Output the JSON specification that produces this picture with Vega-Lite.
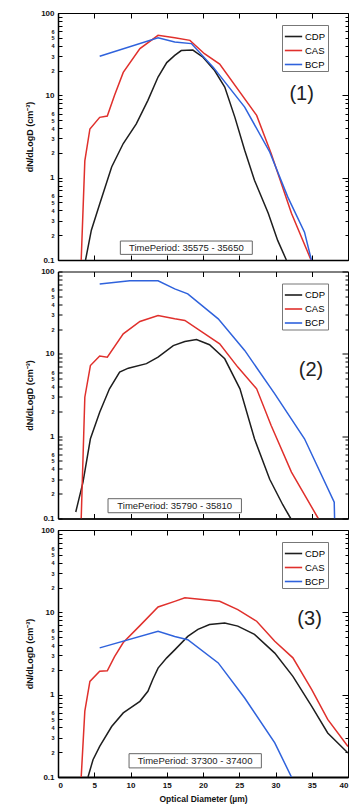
{
  "$schema": "https://vega.github.io/schema/vega-lite/v6.json",
  "background": "white",
  "padding": {"left": 25, "top": 8, "right": 2, "bottom": 2},
  "spacing": 11.5,
  "bounds": "flush",
  "config": {
    "font": "Liberation Sans",
    "view": {"stroke": "black", "strokeWidth": 1},
    "axis": {"grid": false, "domainColor": "black", "tickColor": "black", "labelColor": "#111", "titleColor": "#111", "labelFont": "Liberation Sans", "titleFont": "Liberation Sans"},
    "legend": {"orient": "none", "legendX": 224, "legendY": 12, "title": null, "symbolType": "stroke", "symbolStrokeWidth": 1.6, "symbolSize": 300, "labelFontSize": 9.5, "labelFont": "Liberation Sans", "strokeColor": "#777", "fillColor": "white", "padding": 2, "rowPadding": 0, "labelOffset": 2}
  },
  "resolve": {"scale": {"color": "independent"}, "legend": {"color": "independent"}},
  "datasets": {
    "curves": [
      {"panel": 1, "inst": "CDP", "d": 3.8, "n": 0.1},
      {"panel": 1, "inst": "CDP", "d": 4.6, "n": 0.23},
      {"panel": 1, "inst": "CDP", "d": 5.75, "n": 0.48},
      {"panel": 1, "inst": "CDP", "d": 7.4, "n": 1.35},
      {"panel": 1, "inst": "CDP", "d": 9.0, "n": 2.6},
      {"panel": 1, "inst": "CDP", "d": 10.8, "n": 4.5},
      {"panel": 1, "inst": "CDP", "d": 12.4, "n": 8.7},
      {"panel": 1, "inst": "CDP", "d": 13.8, "n": 16.7},
      {"panel": 1, "inst": "CDP", "d": 15.0, "n": 25},
      {"panel": 1, "inst": "CDP", "d": 16.1, "n": 30.6},
      {"panel": 1, "inst": "CDP", "d": 17.0, "n": 35},
      {"panel": 1, "inst": "CDP", "d": 18.6, "n": 35.5},
      {"panel": 1, "inst": "CDP", "d": 20.0, "n": 29},
      {"panel": 1, "inst": "CDP", "d": 21.6, "n": 20},
      {"panel": 1, "inst": "CDP", "d": 23.0, "n": 12.6},
      {"panel": 1, "inst": "CDP", "d": 24.4, "n": 5.4},
      {"panel": 1, "inst": "CDP", "d": 25.75, "n": 2.15},
      {"panel": 1, "inst": "CDP", "d": 27.1, "n": 0.93},
      {"panel": 1, "inst": "CDP", "d": 29.0, "n": 0.37},
      {"panel": 1, "inst": "CDP", "d": 30.3, "n": 0.173},
      {"panel": 1, "inst": "CDP", "d": 31.5, "n": 0.1},
      {"panel": 1, "inst": "CAS", "d": 3.2, "n": 0.1},
      {"panel": 1, "inst": "CAS", "d": 3.7, "n": 1.6},
      {"panel": 1, "inst": "CAS", "d": 4.4, "n": 3.9},
      {"panel": 1, "inst": "CAS", "d": 5.75, "n": 5.4},
      {"panel": 1, "inst": "CAS", "d": 6.8, "n": 5.6},
      {"panel": 1, "inst": "CAS", "d": 7.8, "n": 10},
      {"panel": 1, "inst": "CAS", "d": 9.0, "n": 19},
      {"panel": 1, "inst": "CAS", "d": 11.3, "n": 37},
      {"panel": 1, "inst": "CAS", "d": 13.8, "n": 53.6},
      {"panel": 1, "inst": "CAS", "d": 16.1, "n": 50},
      {"panel": 1, "inst": "CAS", "d": 18.2, "n": 46.5},
      {"panel": 1, "inst": "CAS", "d": 20.2, "n": 32},
      {"panel": 1, "inst": "CAS", "d": 22.3, "n": 24},
      {"panel": 1, "inst": "CAS", "d": 27.4, "n": 5.7},
      {"panel": 1, "inst": "CAS", "d": 29.4, "n": 1.96},
      {"panel": 1, "inst": "CAS", "d": 32.2, "n": 0.37},
      {"panel": 1, "inst": "CAS", "d": 34.9, "n": 0.1},
      {"panel": 1, "inst": "BCP", "d": 5.75, "n": 29.8},
      {"panel": 1, "inst": "BCP", "d": 13.8, "n": 50},
      {"panel": 1, "inst": "BCP", "d": 16.1, "n": 44.5},
      {"panel": 1, "inst": "BCP", "d": 18.4, "n": 42.5},
      {"panel": 1, "inst": "BCP", "d": 21.4, "n": 22},
      {"panel": 1, "inst": "BCP", "d": 25.75, "n": 7.2},
      {"panel": 1, "inst": "BCP", "d": 29.2, "n": 2.05},
      {"panel": 1, "inst": "BCP", "d": 31.7, "n": 0.58},
      {"panel": 1, "inst": "BCP", "d": 34.0, "n": 0.218},
      {"panel": 1, "inst": "BCP", "d": 34.95, "n": 0.1},
      {"panel": 2, "inst": "CDP", "d": 2.45, "n": 0.12},
      {"panel": 2, "inst": "CDP", "d": 3.45, "n": 0.277},
      {"panel": 2, "inst": "CDP", "d": 4.47, "n": 0.93},
      {"panel": 2, "inst": "CDP", "d": 5.75, "n": 1.95},
      {"panel": 2, "inst": "CDP", "d": 7.1, "n": 3.76},
      {"panel": 2, "inst": "CDP", "d": 8.5, "n": 6.0},
      {"panel": 2, "inst": "CDP", "d": 9.7, "n": 6.7},
      {"panel": 2, "inst": "CDP", "d": 12.2, "n": 7.6},
      {"panel": 2, "inst": "CDP", "d": 13.8, "n": 9.1},
      {"panel": 2, "inst": "CDP", "d": 15.9, "n": 12.6},
      {"panel": 2, "inst": "CDP", "d": 17.5, "n": 14.1},
      {"panel": 2, "inst": "CDP", "d": 19.1, "n": 14.9},
      {"panel": 2, "inst": "CDP", "d": 20.9, "n": 12.9},
      {"panel": 2, "inst": "CDP", "d": 23.0, "n": 8.7},
      {"panel": 2, "inst": "CDP", "d": 25.1, "n": 3.76},
      {"panel": 2, "inst": "CDP", "d": 27.1, "n": 0.93},
      {"panel": 2, "inst": "CDP", "d": 29.2, "n": 0.3},
      {"panel": 2, "inst": "CDP", "d": 31.0, "n": 0.147},
      {"panel": 2, "inst": "CDP", "d": 32.1, "n": 0.1},
      {"panel": 2, "inst": "CAS", "d": 3.2, "n": 0.1},
      {"panel": 2, "inst": "CAS", "d": 3.7, "n": 2.97},
      {"panel": 2, "inst": "CAS", "d": 4.47, "n": 7.2},
      {"panel": 2, "inst": "CAS", "d": 5.75, "n": 9.4},
      {"panel": 2, "inst": "CAS", "d": 6.8, "n": 9.1},
      {"panel": 2, "inst": "CAS", "d": 9.0, "n": 17.5},
      {"panel": 2, "inst": "CAS", "d": 11.3, "n": 24.7},
      {"panel": 2, "inst": "CAS", "d": 13.8, "n": 29.2},
      {"panel": 2, "inst": "CAS", "d": 16.1, "n": 26.6},
      {"panel": 2, "inst": "CAS", "d": 17.5, "n": 25.4},
      {"panel": 2, "inst": "CAS", "d": 22.3, "n": 13.2},
      {"panel": 2, "inst": "CAS", "d": 24.8, "n": 6.9},
      {"panel": 2, "inst": "CAS", "d": 27.4, "n": 3.76},
      {"panel": 2, "inst": "CAS", "d": 29.4, "n": 1.35},
      {"panel": 2, "inst": "CAS", "d": 32.2, "n": 0.366},
      {"panel": 2, "inst": "CAS", "d": 35.9, "n": 0.1},
      {"panel": 2, "inst": "BCP", "d": 5.75, "n": 70.7},
      {"panel": 2, "inst": "BCP", "d": 9.9, "n": 77},
      {"panel": 2, "inst": "BCP", "d": 13.8, "n": 77},
      {"panel": 2, "inst": "BCP", "d": 16.1, "n": 61.5},
      {"panel": 2, "inst": "BCP", "d": 17.9, "n": 53.5},
      {"panel": 2, "inst": "BCP", "d": 22.1, "n": 26.6},
      {"panel": 2, "inst": "BCP", "d": 25.75, "n": 11},
      {"panel": 2, "inst": "BCP", "d": 29.9, "n": 3.27},
      {"panel": 2, "inst": "BCP", "d": 34.0, "n": 0.93},
      {"panel": 2, "inst": "BCP", "d": 38.1, "n": 0.158},
      {"panel": 2, "inst": "BCP", "d": 38.15, "n": 0.1},
      {"panel": 3, "inst": "CDP", "d": 4.14, "n": 0.1},
      {"panel": 3, "inst": "CDP", "d": 4.83, "n": 0.162},
      {"panel": 3, "inst": "CDP", "d": 5.75, "n": 0.235},
      {"panel": 3, "inst": "CDP", "d": 7.4, "n": 0.41},
      {"panel": 3, "inst": "CDP", "d": 9.0, "n": 0.6},
      {"panel": 3, "inst": "CDP", "d": 10.3, "n": 0.72},
      {"panel": 3, "inst": "CDP", "d": 11.3, "n": 0.83},
      {"panel": 3, "inst": "CDP", "d": 12.4, "n": 1.1},
      {"panel": 3, "inst": "CDP", "d": 13.1, "n": 1.55},
      {"panel": 3, "inst": "CDP", "d": 13.8, "n": 2.1},
      {"panel": 3, "inst": "CDP", "d": 15.0, "n": 2.8},
      {"panel": 3, "inst": "CDP", "d": 16.1, "n": 3.5},
      {"panel": 3, "inst": "CDP", "d": 17.9, "n": 5.1},
      {"panel": 3, "inst": "CDP", "d": 19.3, "n": 6.2},
      {"panel": 3, "inst": "CDP", "d": 20.9, "n": 7.1},
      {"panel": 3, "inst": "CDP", "d": 23.0, "n": 7.4},
      {"panel": 3, "inst": "CDP", "d": 24.8, "n": 6.8},
      {"panel": 3, "inst": "CDP", "d": 27.1, "n": 5.4},
      {"panel": 3, "inst": "CDP", "d": 29.9, "n": 3.2},
      {"panel": 3, "inst": "CDP", "d": 32.4, "n": 1.67},
      {"panel": 3, "inst": "CDP", "d": 35.0, "n": 0.72},
      {"panel": 3, "inst": "CDP", "d": 37.2, "n": 0.343},
      {"panel": 3, "inst": "CDP", "d": 40.0, "n": 0.196},
      {"panel": 3, "inst": "CAS", "d": 3.2, "n": 0.1},
      {"panel": 3, "inst": "CAS", "d": 3.7, "n": 0.63},
      {"panel": 3, "inst": "CAS", "d": 4.4, "n": 1.45},
      {"panel": 3, "inst": "CAS", "d": 5.75, "n": 1.92},
      {"panel": 3, "inst": "CAS", "d": 6.8, "n": 1.95},
      {"panel": 3, "inst": "CAS", "d": 7.8, "n": 2.9},
      {"panel": 3, "inst": "CAS", "d": 9.0, "n": 4.3},
      {"panel": 3, "inst": "CAS", "d": 11.3, "n": 6.9},
      {"panel": 3, "inst": "CAS", "d": 13.8, "n": 11.6},
      {"panel": 3, "inst": "CAS", "d": 16.1, "n": 13.6},
      {"panel": 3, "inst": "CAS", "d": 17.5, "n": 15},
      {"panel": 3, "inst": "CAS", "d": 22.3, "n": 13.6},
      {"panel": 3, "inst": "CAS", "d": 24.8, "n": 10.8},
      {"panel": 3, "inst": "CAS", "d": 27.4, "n": 7.8},
      {"panel": 3, "inst": "CAS", "d": 29.9, "n": 4.45},
      {"panel": 3, "inst": "CAS", "d": 32.4, "n": 2.8},
      {"panel": 3, "inst": "CAS", "d": 35.0, "n": 1.15},
      {"panel": 3, "inst": "CAS", "d": 37.2, "n": 0.5},
      {"panel": 3, "inst": "CAS", "d": 40.0, "n": 0.235},
      {"panel": 3, "inst": "BCP", "d": 5.75, "n": 3.7},
      {"panel": 3, "inst": "BCP", "d": 13.8, "n": 5.9},
      {"panel": 3, "inst": "BCP", "d": 16.1, "n": 5.1},
      {"panel": 3, "inst": "BCP", "d": 17.9, "n": 4.65},
      {"panel": 3, "inst": "BCP", "d": 22.1, "n": 2.43},
      {"panel": 3, "inst": "BCP", "d": 25.75, "n": 0.91},
      {"panel": 3, "inst": "BCP", "d": 29.9, "n": 0.26},
      {"panel": 3, "inst": "BCP", "d": 32.2, "n": 0.1}
    ],
    "notes": [
      {"panel": 1, "tag": "(1)", "tx": 33.6, "ty": 10.3, "period": "TimePeriod: 35575 - 35650", "x1": 8.6, "x2": 26.8, "y1": 0.117, "y2": 0.17, "px": 17.7, "py": 0.141},
      {"panel": 2, "tag": "(2)", "tx": 34.9, "ty": 6.3, "period": "TimePeriod: 35790 - 35810", "x1": 6.9, "x2": 25.3, "y1": 0.1175, "y2": 0.174, "px": 16.1, "py": 0.143},
      {"panel": 3, "tag": "(3)", "tx": 34.7, "ty": 8.4, "period": "TimePeriod: 37300 - 37400", "x1": 9.8, "x2": 28.05, "y1": 0.129, "y2": 0.192, "px": 18.9, "py": 0.157}
    ]
  },
  "vconcat": [
    {
      "width": 290, "height": 247,
      "resolve": {"axis": {"x": "independent", "y": "independent"}},
      "layer": [
        {
          "data": {"name": "curves"},
          "transform": [{"filter": "datum.panel == 1"}],
          "mark": {"type": "line", "strokeWidth": 1.5, "clip": true},
          "encoding": {
            "x": {"field": "d", "type": "quantitative", "scale": {"domain": [0, 40], "nice": false}, "axis": {"labels": false, "title": null, "values": [0, 5, 10, 15, 20, 25, 30, 35, 40], "tickSize": -5, "domainWidth": 1.5}},
            "y": {"field": "n", "type": "quantitative", "scale": {"type": "log", "domain": [0.1, 100], "nice": false},
              "axis": {"title": "dN/dLogD (cm⁻³)", "titleFontSize": 9, "titleFontWeight": "bold", "titlePadding": 6,
                "values": [0.1, 0.2, 0.3, 0.4, 0.5, 0.6, 0.7, 0.8, 0.9, 1, 2, 3, 4, 5, 6, 7, 8, 9, 10, 20, 30, 40, 50, 60, 70, 80, 90, 100],
                "format": "~g", "labelOverlap": false, "labelFontWeight": "bold", "labelPadding": 8, "tickSize": -4,
                "labelExpr": "abs(log(datum.value)/LN10 - round(log(datum.value)/LN10)) < 0.001 ? datum.label : (round(datum.value / pow(10, floor(log(datum.value)/LN10 + 0.000001))) <= 6 ? '' + round(datum.value / pow(10, floor(log(datum.value)/LN10 + 0.000001))) : '')",
                "labelFontSize": {"condition": {"test": "abs(log(datum.value)/LN10 - round(log(datum.value)/LN10)) < 0.001", "value": 8}, "value": 5.5},
                "domainWidth": 1.5}},
            "color": {"field": "inst", "type": "nominal", "scale": {"domain": ["CDP", "CAS", "BCP"], "range": ["#1e1e1e", "#e0302c", "#2f62dc"]}}
          }
        },
        {
          "data": {"name": "notes"},
          "transform": [{"filter": "datum.panel == 1"}],
          "mark": {"type": "rect", "fill": "white", "stroke": "#666", "strokeWidth": 1},
          "encoding": {
            "x": {"field": "x1", "type": "quantitative", "axis": {"orient": "top", "labels": false, "title": null, "domain": false, "values": [0, 5, 10, 15, 20, 25, 30, 35, 40], "tickSize": -5}},
            "x2": {"field": "x2"},
            "y": {"field": "y1", "type": "quantitative", "axis": {"orient": "right", "labels": false, "title": null, "domain": false, "values": [0.1, 0.2, 0.3, 0.4, 0.5, 0.6, 0.7, 0.8, 0.9, 1, 2, 3, 4, 5, 6, 7, 8, 9, 10, 20, 30, 40, 50, 60, 70, 80, 90, 100], "tickSize": {"condition": {"test": "abs(log(datum.value)/LN10 - round(log(datum.value)/LN10)) < 0.001", "value": -6}, "value": -3}}},
            "y2": {"field": "y2"}
          }
        },
        {
          "data": {"name": "notes"},
          "transform": [{"filter": "datum.panel == 1"}],
          "mark": {"type": "text", "fontSize": 9.5, "color": "#222"},
          "encoding": {"x": {"field": "px", "type": "quantitative", "axis": null}, "y": {"field": "py", "type": "quantitative", "axis": null}, "text": {"field": "period"}}
        },
        {
          "data": {"name": "notes"},
          "transform": [{"filter": "datum.panel == 1"}],
          "mark": {"type": "text", "fontSize": 20, "color": "#222"},
          "encoding": {"x": {"field": "tx", "type": "quantitative", "axis": null}, "y": {"field": "ty", "type": "quantitative", "axis": null}, "text": {"field": "tag"}}
        }
      ]
    },
    {
      "width": 290, "height": 247,
      "resolve": {"axis": {"x": "independent", "y": "independent"}},
      "layer": [
        {
          "data": {"name": "curves"},
          "transform": [{"filter": "datum.panel == 2"}],
          "mark": {"type": "line", "strokeWidth": 1.5, "clip": true},
          "encoding": {
            "x": {"field": "d", "type": "quantitative", "scale": {"domain": [0, 40], "nice": false}, "axis": {"labels": false, "title": null, "values": [0, 5, 10, 15, 20, 25, 30, 35, 40], "tickSize": -5, "domainWidth": 1.5}},
            "y": {"field": "n", "type": "quantitative", "scale": {"type": "log", "domain": [0.1, 100], "nice": false},
              "axis": {"title": "dN/dLogD (cm⁻³)", "titleFontSize": 9, "titleFontWeight": "bold", "titlePadding": 6,
                "values": [0.1, 0.2, 0.3, 0.4, 0.5, 0.6, 0.7, 0.8, 0.9, 1, 2, 3, 4, 5, 6, 7, 8, 9, 10, 20, 30, 40, 50, 60, 70, 80, 90, 100],
                "format": "~g", "labelOverlap": false, "labelFontWeight": "bold", "labelPadding": 8, "tickSize": -4,
                "labelExpr": "abs(log(datum.value)/LN10 - round(log(datum.value)/LN10)) < 0.001 ? datum.label : (round(datum.value / pow(10, floor(log(datum.value)/LN10 + 0.000001))) <= 6 ? '' + round(datum.value / pow(10, floor(log(datum.value)/LN10 + 0.000001))) : '')",
                "labelFontSize": {"condition": {"test": "abs(log(datum.value)/LN10 - round(log(datum.value)/LN10)) < 0.001", "value": 8}, "value": 5.5},
                "domainWidth": 1.5}},
            "color": {"field": "inst", "type": "nominal", "scale": {"domain": ["CDP", "CAS", "BCP"], "range": ["#1e1e1e", "#e0302c", "#2f62dc"]}}
          }
        },
        {
          "data": {"name": "notes"},
          "transform": [{"filter": "datum.panel == 2"}],
          "mark": {"type": "rect", "fill": "white", "stroke": "#666", "strokeWidth": 1},
          "encoding": {
            "x": {"field": "x1", "type": "quantitative", "axis": {"orient": "top", "labels": false, "title": null, "domain": false, "values": [0, 5, 10, 15, 20, 25, 30, 35, 40], "tickSize": -5}},
            "x2": {"field": "x2"},
            "y": {"field": "y1", "type": "quantitative", "axis": {"orient": "right", "labels": false, "title": null, "domain": false, "values": [0.1, 0.2, 0.3, 0.4, 0.5, 0.6, 0.7, 0.8, 0.9, 1, 2, 3, 4, 5, 6, 7, 8, 9, 10, 20, 30, 40, 50, 60, 70, 80, 90, 100], "tickSize": {"condition": {"test": "abs(log(datum.value)/LN10 - round(log(datum.value)/LN10)) < 0.001", "value": -6}, "value": -3}}},
            "y2": {"field": "y2"}
          }
        },
        {
          "data": {"name": "notes"},
          "transform": [{"filter": "datum.panel == 2"}],
          "mark": {"type": "text", "fontSize": 9.5, "color": "#222"},
          "encoding": {"x": {"field": "px", "type": "quantitative", "axis": null}, "y": {"field": "py", "type": "quantitative", "axis": null}, "text": {"field": "period"}}
        },
        {
          "data": {"name": "notes"},
          "transform": [{"filter": "datum.panel == 2"}],
          "mark": {"type": "text", "fontSize": 20, "color": "#222"},
          "encoding": {"x": {"field": "tx", "type": "quantitative", "axis": null}, "y": {"field": "ty", "type": "quantitative", "axis": null}, "text": {"field": "tag"}}
        }
      ]
    },
    {
      "width": 290, "height": 247,
      "resolve": {"axis": {"x": "independent", "y": "independent"}},
      "layer": [
        {
          "data": {"name": "curves"},
          "transform": [{"filter": "datum.panel == 3"}],
          "mark": {"type": "line", "strokeWidth": 1.5, "clip": true},
          "encoding": {
            "x": {"field": "d", "type": "quantitative", "scale": {"domain": [0, 40], "nice": false}, "axis": {"title": "Optical Diameter (µm)", "titleFontSize": 8.5, "titleFontWeight": "bold", "titlePadding": 5, "values": [0, 5, 10, 15, 20, 25, 30, 35, 40], "tickSize": -5, "labelFontSize": 8, "labelFontWeight": "bold", "labelPadding": 9, "domainWidth": 2}},
            "y": {"field": "n", "type": "quantitative", "scale": {"type": "log", "domain": [0.1, 100], "nice": false},
              "axis": {"title": "dN/dLogD (cm⁻³)", "titleFontSize": 9, "titleFontWeight": "bold", "titlePadding": 6,
                "values": [0.1, 0.2, 0.3, 0.4, 0.5, 0.6, 0.7, 0.8, 0.9, 1, 2, 3, 4, 5, 6, 7, 8, 9, 10, 20, 30, 40, 50, 60, 70, 80, 90, 100],
                "format": "~g", "labelOverlap": false, "labelFontWeight": "bold", "labelPadding": 8, "tickSize": -4,
                "labelExpr": "abs(log(datum.value)/LN10 - round(log(datum.value)/LN10)) < 0.001 ? datum.label : (round(datum.value / pow(10, floor(log(datum.value)/LN10 + 0.000001))) <= 6 ? '' + round(datum.value / pow(10, floor(log(datum.value)/LN10 + 0.000001))) : '')",
                "labelFontSize": {"condition": {"test": "abs(log(datum.value)/LN10 - round(log(datum.value)/LN10)) < 0.001", "value": 8}, "value": 5.5},
                "domainWidth": 1.5}},
            "color": {"field": "inst", "type": "nominal", "scale": {"domain": ["CDP", "CAS", "BCP"], "range": ["#1e1e1e", "#e0302c", "#2f62dc"]}}
          }
        },
        {
          "data": {"name": "notes"},
          "transform": [{"filter": "datum.panel == 3"}],
          "mark": {"type": "rect", "fill": "white", "stroke": "#666", "strokeWidth": 1},
          "encoding": {
            "x": {"field": "x1", "type": "quantitative", "axis": {"orient": "top", "labels": false, "title": null, "domain": false, "values": [0, 5, 10, 15, 20, 25, 30, 35, 40], "tickSize": -5}},
            "x2": {"field": "x2"},
            "y": {"field": "y1", "type": "quantitative", "axis": {"orient": "right", "labels": false, "title": null, "domain": false, "values": [0.1, 0.2, 0.3, 0.4, 0.5, 0.6, 0.7, 0.8, 0.9, 1, 2, 3, 4, 5, 6, 7, 8, 9, 10, 20, 30, 40, 50, 60, 70, 80, 90, 100], "tickSize": {"condition": {"test": "abs(log(datum.value)/LN10 - round(log(datum.value)/LN10)) < 0.001", "value": -6}, "value": -3}}},
            "y2": {"field": "y2"}
          }
        },
        {
          "data": {"name": "notes"},
          "transform": [{"filter": "datum.panel == 3"}],
          "mark": {"type": "text", "fontSize": 9.5, "color": "#222"},
          "encoding": {"x": {"field": "px", "type": "quantitative", "axis": null}, "y": {"field": "py", "type": "quantitative", "axis": null}, "text": {"field": "period"}}
        },
        {
          "data": {"name": "notes"},
          "transform": [{"filter": "datum.panel == 3"}],
          "mark": {"type": "text", "fontSize": 20, "color": "#222"},
          "encoding": {"x": {"field": "tx", "type": "quantitative", "axis": null}, "y": {"field": "ty", "type": "quantitative", "axis": null}, "text": {"field": "tag"}}
        }
      ]
    }
  ]
}
